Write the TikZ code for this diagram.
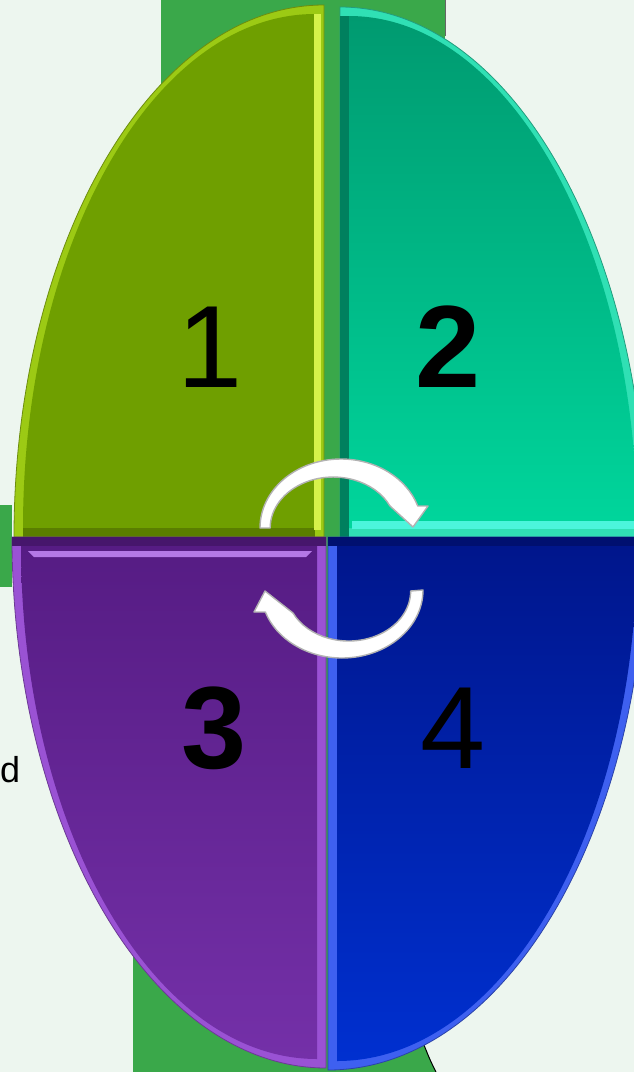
\documentclass[tikz,border=0pt]{standalone}
\usepackage{fontspec}
\setmainfont{Liberation Sans}
\usepackage{xcolor}
\usepackage{tikz}
\usetikzlibrary{arrows.meta, positioning, calc}

\definecolor{bgmint}{HTML}{EDF6EF}
\definecolor{bandgreen}{HTML}{3AA84A}
\definecolor{oliveMain}{HTML}{6F9F00}
\definecolor{oliveEdge}{HTML}{9CCA14}
\definecolor{oliveDark}{HTML}{5A7E00}
\definecolor{oliveShine}{HTML}{D6F24A}
\definecolor{tealTop}{HTML}{009A70}
\definecolor{tealBot}{HTML}{00D69C}
\definecolor{tealEdge}{HTML}{30E0B4}
\definecolor{tealDark}{HTML}{00805E}
\definecolor{tealShine}{HTML}{4CF5DC}
\definecolor{plumTop}{HTML}{561C84}
\definecolor{plumBot}{HTML}{7430A8}
\definecolor{plumEdge}{HTML}{9A52D4}
\definecolor{plumDark}{HTML}{46166C}
\definecolor{plumShine}{HTML}{B478E6}
\definecolor{navyTop}{HTML}{00168C}
\definecolor{navyBot}{HTML}{0030D0}
\definecolor{navyEdge}{HTML}{3E60F0}
\definecolor{navyDark}{HTML}{001070}

\begin{document}
\begin{tikzpicture}[x=1pt, y=-1pt,
        num/.style={anchor=base, inner sep=0pt, font={\fontsize{117}{117}\selectfont}, text=black},
        bnum/.style={num, font={\fontsize{117}{117}\selectfont\bfseries}},
        edgefill/.style={fill=#1, draw=#1!70!black, line width=0.8pt},
        cyclearrow/.style={fill=white, draw=black!30, line width=1.4pt, line join=round}
    ]
        \useasboundingbox (0,0) rectangle (634,1072);
        \begin{scope}
        \clip (0,0) rectangle (634,1072);
        % Background
        \fill[bgmint] (0,0) rectangle (634,1072);
        \fill[bandgreen] (161,0) rectangle (445,300);
        \draw[black!60, line width=0.8pt] (445,0) -- (445,36);
        \fill[bandgreen] (0,505) rectangle (12,587);
        \fill[bandgreen] (133,800) -- (133,1072) -- (436,1072) .. controls (430,1060) .. (422,1040) -- (422,800) -- cycle;
        \draw[black, line width=1pt] (422,1040) .. controls (430,1060) .. (436,1072);
        \fill[bandgreen] (318,300) rectangle (346,1072);
        % Quadrant 1
        \path[edgefill=oliveEdge] (324,537) -- (14,537) arc[start angle=180, end angle=270, x radius=310, y radius=532] -- cycle;
        \fill[oliveMain] (315,528) -- (23,528) arc[start angle=180, end angle=270, x radius=292, y radius=514] -- cycle;
        \fill[oliveDark] (23,528) rectangle (315,537);
        \fill[oliveShine] (314,14) rectangle (321,530);
        % Quadrant 2
        \path[edgefill=tealEdge] (340,537) -- (340,7) arc[start angle=270, end angle=360, x radius=306, y radius=530] -- cycle;
        \shade[top color=tealTop, bottom color=tealBot] (349,528) -- (349,16) arc[start angle=270, end angle=360, x radius=288, y radius=512] -- cycle;
        \fill[tealDark] (340,16) rectangle (349,537);
        \fill[tealShine] (352,521) rectangle (634,529);
        % Quadrant 3
        \path[edgefill=plumEdge] (326,537) -- (12,537) arc[start angle=180, end angle=90, x radius=314, y radius=531] -- cycle;
        \shade[top color=plumTop, bottom color=plumBot] (317,546) -- (21,546) arc[start angle=180, end angle=90, x radius=296, y radius=513] -- cycle;
        \fill[plumDark] (12,537) rectangle (326,546);
        \fill[plumShine] (28,551) -- (312,551) -- (306,557) -- (34,557) -- cycle;
        % Quadrant 4
        \path[edgefill=navyEdge] (328,537) -- (646,537) arc[start angle=0, end angle=90, x radius=318, y radius=533] -- cycle;
        \shade[top color=navyTop, bottom color=navyBot] (337,546) -- (637,546) arc[start angle=0, end angle=90, x radius=300, y radius=515] -- cycle;
        \fill[navyDark] (328,537) rectangle (634,546);
        % Numbers
        \node (n1) [num] at (210,387) {1};
        \node (n2) [bnum] at (448,387) {2};
        \node (n3) [bnum] at (214,768) {3};
        \node (n4) [num] at (453,768) {4};
        % Cycle arrows
        \path[cyclearrow] (260,528) arc[start angle=180, end angle=341.4, x radius=81, y radius=69]
            -- (428,506) -- (413,527) -- (390,506)
            arc[start angle=334.4, end angle=180, x radius=63, y radius=51] -- cycle;
        \path[cyclearrow] (423,590) arc[start angle=0, end angle=161.1, x radius=81, y radius=68]
            -- (254,612) -- (265,591) -- (293,613)
            arc[start angle=153.9, end angle=0, x radius=62, y radius=50] -- cycle;
        % Side text
        \node (side) [anchor=base west, inner sep=0pt, font={\fontsize{36}{36}\selectfont}] at (0,782) {d};
        \end{scope}
    \end{tikzpicture}
\end{document}
